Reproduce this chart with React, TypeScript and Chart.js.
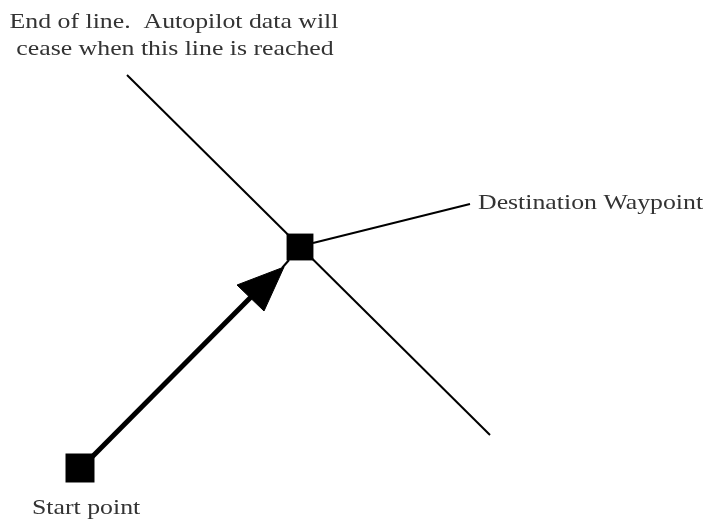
import React, { useEffect, useRef } from "react";
import { Chart, registerables } from "chart.js";

Chart.register(...registerables);

// Diagram nodes (start and destination waypoints)
const waypointNames = ["Start point", "Destination Waypoint"];
const waypointX = [80, 300];
const waypointY = [468, 247];
const waypointSize = [20.5, 19];

// "End of line" boundary line through the destination
const endLineX = [127, 490];
const endLineY = [75, 435];

// Leader line to the destination label
const leaderX = [313, 470];
const leaderY = [243, 204];

// Track (thick arrow) from start towards destination
const trackX = [92, 253];
const trackY = [457, 295];
const tipLinkX = [282, 289];
const tipLinkY = [268, 260];
const arrowHeadX = [284, 237, 264, 284];
const arrowHeadY = [267, 285, 311, 267];

// Text labels
const captionLines = ["End of line.  Autopilot data will", "cease when this line is reached"];
const captionX = [174, 175];
const captionY = [28, 55];
const nodeLabelX = [32, 478];
const nodeLabelY = [514, 209];

const pts = (xs: number[], ys: number[]) => xs.map((x, i) => ({ x, y: ys[i] }));

const FONT = '21.5px "Liberation Serif", "Times New Roman", serif';
const STRETCH = 1.2;

const textPlugin = {
  id: "diagramText",
  afterDraw(chart: any) {
    const ctx = chart.ctx as CanvasRenderingContext2D;
    const xs = chart.scales.x;
    const ys = chart.scales.y;
    const draw = (t: string, x: number, y: number, align: "left" | "center") => {
      ctx.save();
      ctx.translate(xs.getPixelForValue(x), ys.getPixelForValue(y));
      ctx.scale(STRETCH, 1);
      ctx.font = FONT;
      ctx.fillStyle = "#333";
      ctx.textAlign = align;
      ctx.textBaseline = "alphabetic";
      ctx.fillText(t, 0, 0);
      ctx.restore();
    };
    captionLines.forEach((t, i) => draw(t, captionX[i], captionY[i], "center"));
    waypointNames.forEach((t, i) => draw(t, nodeLabelX[i], nodeLabelY[i], "left"));
  },
};

export default function App() {
  const ref = useRef<HTMLCanvasElement | null>(null);
  useEffect(() => {
    if (!ref.current) return;
    const lineDs = (data: any[], width: number) => ({
      data,
      showLine: true,
      borderColor: "#000",
      borderWidth: width,
      pointRadius: 0,
      fill: false,
      borderCapStyle: "butt",
    });
    const chart = new Chart(ref.current, {
      type: "scatter",
      data: {
        datasets: [
          {
            data: pts(waypointX, waypointY),
            showLine: false,
            pointStyle: "rect",
            pointRadius: waypointSize,
            backgroundColor: "#000",
            borderColor: "#000",
            borderWidth: 0,
          } as any,
          {
            data: pts(arrowHeadX, arrowHeadY),
            showLine: true,
            borderColor: "#000",
            borderWidth: 1,
            backgroundColor: "#000",
            pointRadius: 0,
            fill: "shape",
          } as any,
          lineDs(pts(trackX, trackY), 5),
          lineDs(pts(tipLinkX, tipLinkY), 2),
          lineDs(pts(endLineX, endLineY), 2),
          lineDs(pts(leaderX, leaderY), 2),
        ],
      },
      options: {
        animation: false,
        responsive: false,
        maintainAspectRatio: false,
        devicePixelRatio: 1,
        events: [],
        layout: { padding: 0, autoPadding: false },
        plugins: { legend: { display: false }, tooltip: { enabled: false } },
        scales: {
          x: { type: "linear", min: 0, max: 707, display: false },
          y: { type: "linear", min: 0, max: 520, reverse: true, display: false },
        },
      } as any,
      plugins: [textPlugin],
    });
    return () => chart.destroy();
  }, []);
  return (
    <div style={{ position: "fixed", left: 0, top: 0, width: 707, height: 520, background: "#fff" }}>
      <canvas ref={ref} width={707} height={520} style={{ display: "block" }} />
    </div>
  );
}
